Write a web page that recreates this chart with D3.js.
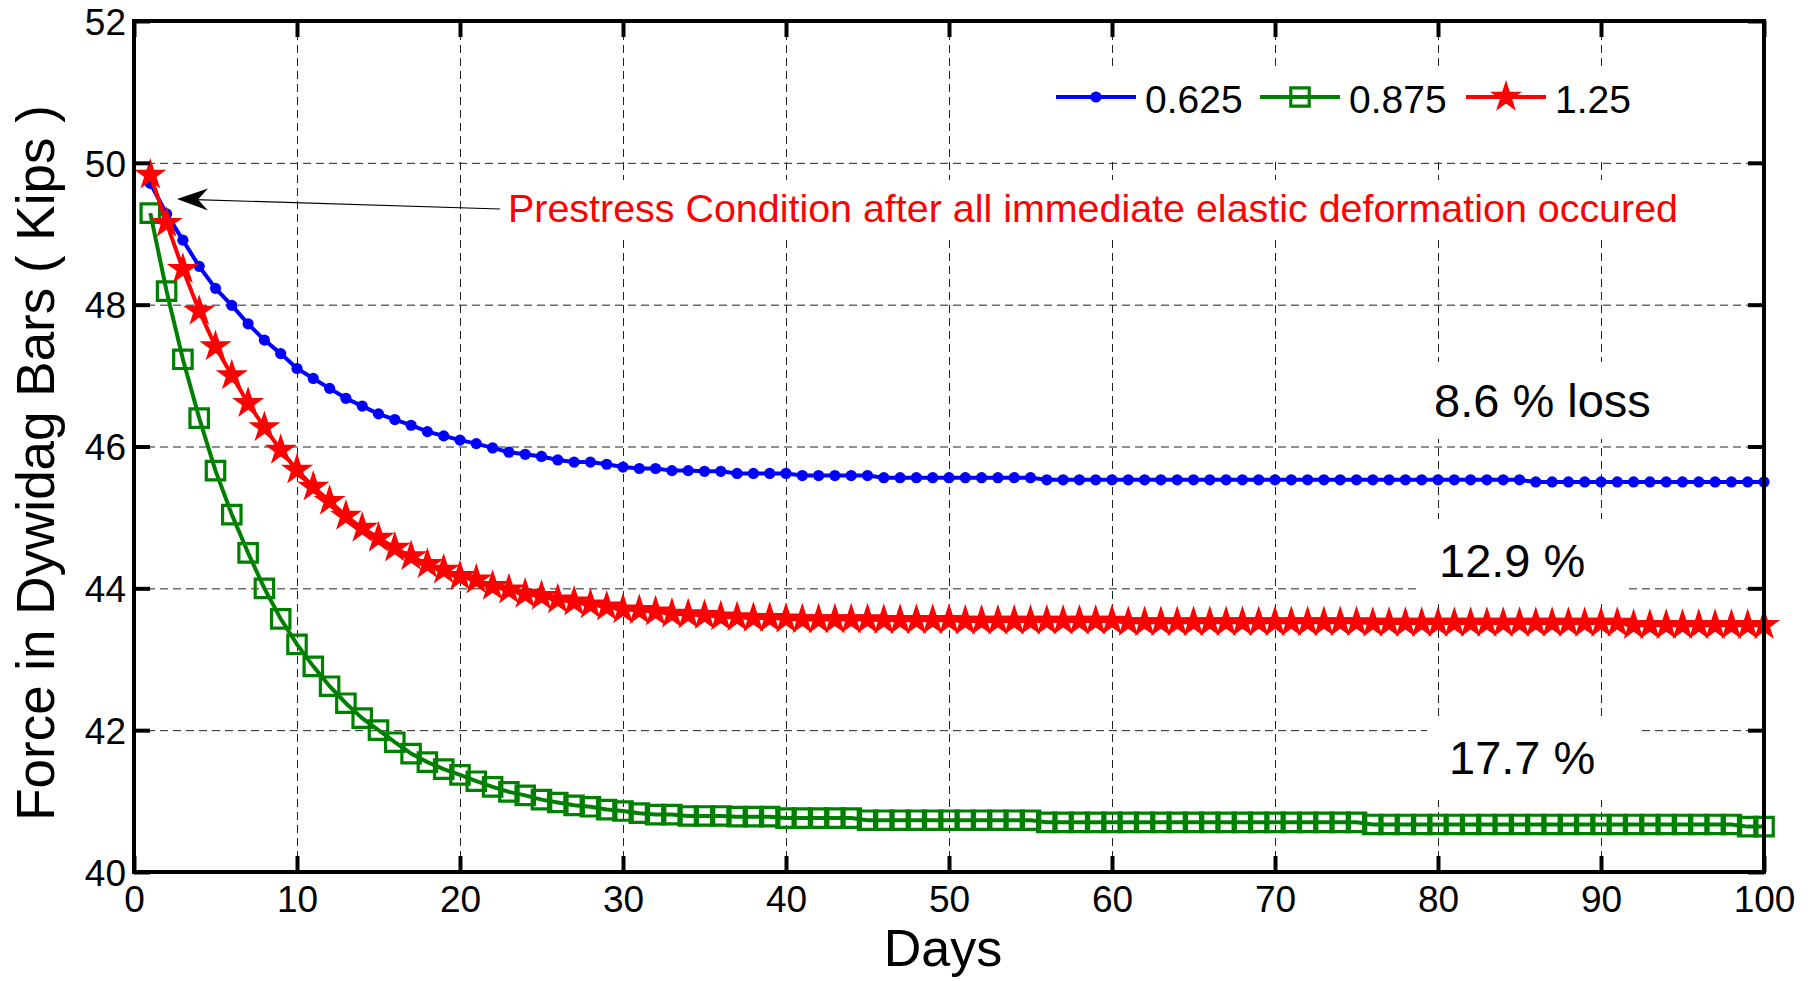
<!DOCTYPE html>
<html>
<head>
<meta charset="utf-8">
<script src="https://cdn.jsdelivr.net/npm/d3@7"></script>
<style>
  body { margin: 0; background: #fff; }
  text { font-family: "Liberation Sans", Arial, sans-serif; fill: #000; }
</style>
</head>
<body>
<svg id="chart"></svg>
<script>
// Days 1..100
const days = d3.range(1, 101);

// Force in Dywidag bars (kips)
const blue625 = [
  49.71, 49.28, 48.91, 48.54, 48.23, 47.99, 47.73, 47.50, 47.31, 47.10,
  46.96, 46.82, 46.68, 46.57, 46.46, 46.38, 46.30, 46.21, 46.15, 46.09,
  46.04, 45.98, 45.92, 45.89, 45.86, 45.81, 45.78, 45.78, 45.75, 45.71,
  45.69, 45.69, 45.66, 45.66, 45.65, 45.65, 45.62, 45.62, 45.62, 45.62,
  45.59, 45.59, 45.59, 45.59, 45.59, 45.56, 45.56, 45.56, 45.56, 45.56,
  45.56, 45.56, 45.56, 45.56, 45.56, 45.53, 45.53, 45.53, 45.53, 45.53,
  45.53, 45.53, 45.53, 45.53, 45.53, 45.53, 45.53, 45.53, 45.53, 45.53,
  45.53, 45.53, 45.53, 45.53, 45.53, 45.53, 45.53, 45.53, 45.53, 45.53,
  45.53, 45.53, 45.53, 45.53, 45.53, 45.50, 45.50, 45.50, 45.50, 45.50,
  45.50, 45.50, 45.50, 45.50, 45.50, 45.50, 45.50, 45.50, 45.50, 45.50
];
const green875 = [
  49.29, 48.19, 47.23, 46.40, 45.66, 45.04, 44.50, 44.00, 43.57, 43.21,
  42.90, 42.62, 42.38, 42.17, 42.00, 41.83, 41.67, 41.55, 41.45, 41.37,
  41.28, 41.20, 41.13, 41.08, 41.02, 40.98, 40.94, 40.92, 40.88, 40.86,
  40.83, 40.81, 40.81, 40.79, 40.79, 40.79, 40.78, 40.78, 40.78, 40.76,
  40.76, 40.76, 40.76, 40.76, 40.73, 40.73, 40.73, 40.73, 40.73, 40.73,
  40.73, 40.73, 40.73, 40.73, 40.73, 40.70, 40.70, 40.70, 40.70, 40.70,
  40.70, 40.70, 40.70, 40.70, 40.70, 40.70, 40.70, 40.70, 40.70, 40.70,
  40.70, 40.70, 40.70, 40.70, 40.70, 40.67, 40.67, 40.67, 40.67, 40.67,
  40.67, 40.67, 40.67, 40.67, 40.67, 40.67, 40.67, 40.67, 40.67, 40.67,
  40.67, 40.67, 40.67, 40.67, 40.67, 40.67, 40.67, 40.67, 40.64, 40.64
];
const red125 = [
  49.83, 49.15, 48.50, 47.91, 47.41, 47.00, 46.61, 46.27, 45.95, 45.67,
  45.43, 45.23, 45.02, 44.85, 44.71, 44.57, 44.45, 44.34, 44.26, 44.17,
  44.12, 44.03, 43.98, 43.92, 43.89, 43.84, 43.81, 43.77, 43.74, 43.70,
  43.69, 43.67, 43.64, 43.63, 43.62, 43.60, 43.59, 43.58, 43.58, 43.57,
  43.56, 43.56, 43.56, 43.56, 43.56, 43.55, 43.55, 43.55, 43.55, 43.55,
  43.54, 43.54, 43.54, 43.54, 43.54, 43.54, 43.54, 43.54, 43.54, 43.54,
  43.52, 43.52, 43.52, 43.52, 43.52, 43.52, 43.52, 43.52, 43.52, 43.52,
  43.52, 43.52, 43.52, 43.52, 43.52, 43.51, 43.51, 43.51, 43.51, 43.51,
  43.51, 43.51, 43.51, 43.51, 43.51, 43.51, 43.51, 43.51, 43.51, 43.51,
  43.51, 43.48, 43.48, 43.48, 43.48, 43.48, 43.48, 43.48, 43.48, 43.48
];

const seriesNames = ['0.625', '0.875', '1.25'];
const xTicks = [0, 10, 20, 30, 40, 50, 60, 70, 80, 90, 100];
const yTicks = [40, 42, 44, 46, 48, 50, 52];

const lossLabels = ['8.6 % loss', '12.9 %', '17.7 %'];
const noteText = 'Prestress Condition after all immediate elastic deformation occured';

const width = 1818, height = 981;
const margin = { top: 21, right: 54, bottom: 109, left: 134 };
const w = width - margin.left - margin.right;
const h = height - margin.top - margin.bottom;

const svg = d3.select('#chart').attr('width', width).attr('height', height);
const chart = svg.append('g').attr('transform', `translate(${margin.left},${margin.top})`);

const x = d3.scaleLinear().domain([0, 100]).range([0, w]);
const y = d3.scaleLinear().domain([40, 52]).range([h, 0]);

// dashed grid
const gridX = chart.append('g')
  .attr('transform', `translate(0,${h})`)
  .call(d3.axisBottom(x).tickValues(xTicks.slice(1, -1)).tickSize(-h).tickFormat(''));
const gridY = chart.append('g')
  .call(d3.axisLeft(y).tickValues(yTicks.slice(1, -1)).tickSize(-w).tickFormat(''));
[gridX, gridY].forEach(g => {
  g.select('.domain').remove();
  g.selectAll('line').attr('stroke', '#222').attr('stroke-width', 1).attr('stroke-dasharray', '8,5');
});

// white-backed text helper
function boxedText(parent, tx, ty, str, size, color, pad) {
  const grp = parent.append('g');
  const t = grp.append('text')
    .attr('x', tx).attr('y', ty)
    .style('font-size', size + 'px')
    .style('fill', color)
    .text(str);
  const bb = t.node().getBBox();
  grp.insert('rect', 'text')
    .attr('x', bb.x - pad.l).attr('y', bb.y - pad.t)
    .attr('width', bb.width + pad.l + pad.r)
    .attr('height', bb.height + pad.t + pad.b)
    .attr('fill', '#fff');
  return t;
}

// loss annotations
boxedText(svg, 1434, 417, lossLabels[0], 47, '#000', { l: 20, r: 40, t: 12, b: 12 });
boxedText(svg, 1439, 577, lossLabels[1], 47, '#000', { l: 22, r: 42, t: 15, b: 16 });
boxedText(svg, 1449, 774, lossLabels[2], 47, '#000', { l: 22, r: 42, t: 15, b: 16 });

// red note with arrow
const note = boxedText(svg, 508, 222, noteText, 39.5, '#ff0000', { l: 8, r: 10, t: 6, b: 8 });
note.attr('textLength', 1170).attr('lengthAdjust', 'spacingAndGlyphs');
svg.append('line')
  .attr('x1', 500).attr('y1', 209).attr('x2', 195).attr('y2', 199.6)
  .attr('stroke', '#000').attr('stroke-width', 1.2);
svg.append('path')
  .attr('d', 'M177,199 L208,188.5 L198,199.6 L208,210.5 Z')
  .attr('fill', '#000');

// series
const series = [
  { name: seriesNames[0], values: blue625, color: '#0000ff', marker: 'dot' },
  { name: seriesNames[1], values: green875, color: '#008000', marker: 'square' },
  { name: seriesNames[2], values: red125, color: '#ff0000', marker: 'star' }
];

const line = d3.line().x((d, i) => x(days[i])).y(d => y(d));
const starPath = d3.symbol(d3.symbolStar, 190)();
const squarePath = d3.symbol(d3.symbolSquare, 340)();

function drawMarker(sel, s) {
  if (s.marker === 'dot') {
    sel.append('circle').attr('r', 5.6).attr('fill', s.color);
  } else if (s.marker === 'square') {
    sel.append('path').attr('d', squarePath)
      .attr('fill', 'none').attr('stroke', s.color).attr('stroke-width', 3.2);
  } else {
    sel.append('path').attr('d', starPath)
      .attr('fill', s.color).attr('stroke', s.color)
      .attr('stroke-width', 2.4).attr('stroke-linejoin', 'miter');
  }
}

series.forEach(s => {
  const g = chart.append('g');
  g.append('path')
    .datum(s.values)
    .attr('d', line)
    .attr('fill', 'none')
    .attr('stroke', s.color)
    .attr('stroke-width', 4);
  g.selectAll('.mk')
    .data(s.values)
    .join('g')
    .attr('class', 'mk')
    .attr('transform', (d, i) => `translate(${x(days[i])},${y(d)})`)
    .each(function () { drawMarker(d3.select(this), s); });
});

// axes with inward ticks
const tickLen = 16;
const axB = chart.append('g').attr('transform', `translate(0,${h})`)
  .call(d3.axisBottom(x).tickValues(xTicks).tickSize(-tickLen).tickSizeOuter(0).tickPadding(13));
const axT = chart.append('g')
  .call(d3.axisTop(x).tickValues(xTicks).tickSize(-tickLen).tickSizeOuter(0).tickFormat(''));
const axL = chart.append('g')
  .call(d3.axisLeft(y).tickValues(yTicks).tickSize(-tickLen).tickSizeOuter(0).tickPadding(8));
const axR = chart.append('g').attr('transform', `translate(${w},0)`)
  .call(d3.axisRight(y).tickValues(yTicks).tickSize(-tickLen).tickSizeOuter(0).tickFormat(''));
[axB, axT, axL, axR].forEach(g => {
  g.select('.domain').remove();
  g.selectAll('line').attr('stroke', '#000').attr('stroke-width', 4);
  g.selectAll('text').style('font-size', '37px').style('font-family', '"Liberation Sans", Arial, sans-serif').attr('fill', '#000');
});
axB.selectAll('text').attr('dy', '0.72em');
axL.selectAll('text').attr('dy', '0.36em');

chart.append('rect')
  .attr('width', w).attr('height', h)
  .attr('fill', 'none').attr('stroke', '#000').attr('stroke-width', 4);

// axis titles
svg.append('text')
  .attr('x', 943).attr('y', 966)
  .style('font-size', '52px')
  .style('text-anchor', 'middle')
  .text('Days');
svg.append('text')
  .attr('transform', 'translate(54,463) rotate(-90)')
  .style('font-size', '53px')
  .style('text-anchor', 'middle')
  .text('Force in Dywidag Bars ( Kips )');

// legend
const legend = svg.append('g');
legend.append('rect')
  .attr('x', 1040).attr('y', 69).attr('width', 612).attr('height', 90)
  .attr('fill', '#fff');
const legX = [1056, 1260, 1466];
series.forEach((s, i) => {
  const lg = legend.append('g').attr('transform', `translate(${legX[i]},97)`);
  lg.append('line').attr('x1', 0).attr('x2', 80).attr('y1', 0).attr('y2', 0)
    .attr('stroke', s.color).attr('stroke-width', 4);
  const m = lg.append('g').attr('transform', 'translate(40,0)');
  drawMarker(m, s);
  lg.append('text').attr('x', 89).attr('y', 16)
    .style('font-size', '39px')
    .text(s.name);
});
</script>
</body>
</html>
